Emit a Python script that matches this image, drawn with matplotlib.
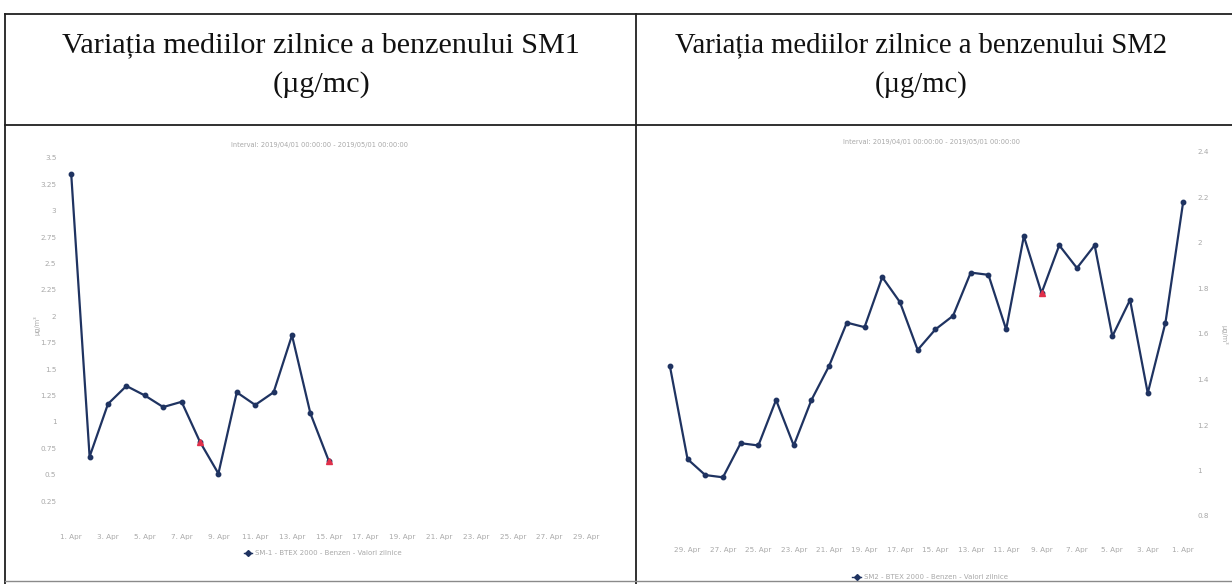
import matplotlib

matplotlib.use("Agg")
import matplotlib.pyplot as plt
import matplotlib.lines as mlines

W, H = 1232, 584

# header texts
titles = ["Variația mediilor zilnice a benzenului SM1", "Variația mediilor zilnice a benzenului SM2"]
unit = "(µg/mc)"
interval = "Interval: 2019/04/01 00:00:00 - 2019/05/01 00:00:00"

# SM1: daily means, 1-15 April
sm1_days = list(range(1, 16))
sm1_vals = [3.35, 0.67, 1.17, 1.34, 1.25, 1.14, 1.19, 0.81, 0.51, 1.28, 1.16, 1.28, 1.82, 1.08, 0.63]
sm1_flag = [8, 15]
sm1_yticks = [0.25, 0.5, 0.75, 1, 1.25, 1.5, 1.75, 2, 2.25, 2.5, 2.75, 3, 3.25, 3.5]
sm1_legend = "SM-1 - BTEX 2000 - Benzen - Valori zilnice"

# SM2: daily means, 1-30 April
sm2_days = list(range(1, 31))
sm2_vals = [2.18, 1.65, 1.34, 1.75, 1.59, 1.99, 1.89, 1.99, 1.78, 2.03,
            1.62, 1.86, 1.87, 1.68, 1.62, 1.53, 1.74, 1.85, 1.63, 1.65,
            1.46, 1.31, 1.11, 1.31, 1.11, 1.12, 0.97, 0.98, 1.05, 1.46]
sm2_flag = [9]
sm2_yticks = [0.8, 1, 1.2, 1.4, 1.6, 1.8, 2, 2.2, 2.4]
sm2_legend = "SM2 - BTEX 2000 - Benzen - Valori zilnice"

xtick_days = list(range(1, 30, 2))
xtick_labels = [f"{d}. Apr" for d in xtick_days]

LINE = "#1f3361"
FLAG = "#e0304a"
FAINT = "#a8a8a8"
SERIF = ["Liberation Serif", "DejaVu Serif"]


def box(x0, y0, x1, y1):
    # pixel box (top-left origin) -> figure fraction rect
    return [x0 / W, 1 - y1 / H, (x1 - x0) / W, (y1 - y0) / H]


def fx(x):
    return x / W


def fy(y):
    return 1 - y / H


def draw_chart(ax, days, vals, flags, yticks, ylim, right=False):
    ax.plot(days, vals, color=LINE, lw=1.6, marker="o", ms=3.2, zorder=3)
    fv = [vals[days.index(d)] for d in flags]
    ax.plot(flags, fv, ls="none", marker="^", ms=5, color=FLAG, zorder=4)
    ax.set_xlim(0.5, 30.5)
    if right:
        ax.invert_xaxis()
        ax.yaxis.tick_right()
    ax.set_ylim(*ylim)
    ax.set_yticks(yticks)
    ax.set_yticklabels([f"{t:g}" for t in yticks])
    ax.set_xticks(xtick_days)
    ax.set_xticklabels(xtick_labels)
    ax.tick_params(axis="both", length=0, labelsize=5.2, colors=FAINT)
    ax.tick_params(axis="x", pad=24 if not right else 22)
    ax.tick_params(axis="y", pad=4)
    for s in ax.spines.values():
        s.set_visible(False)
    ax.set_facecolor("none")


fig = plt.figure(figsize=(W / 100, H / 100), dpi=100)

# table grid
grid = fig.add_axes([0, 0, 1, 1])
grid.set_xlim(0, W)
grid.set_ylim(H, 0)
grid.axis("off")
kw = dict(color="#202020", lw=1.3)
grid.plot([5, W], [14, 14], **kw)
grid.plot([5, W], [125, 125], **kw)
grid.plot([5, 5], [14, H], **kw)
grid.plot([636, 636], [14, H], **kw)
grid.plot([5, W], [581, 581], color="#8a8a8a", lw=1.0)

# header text
for cx, t, fs in [(321, titles[0], 21.7), (921, titles[1], 20.6)]:
    fig.text(fx(cx), fy(45), t, ha="center", va="center", fontsize=fs, family=SERIF, color="#111111")
    fig.text(fx(cx), fy(85), unit, ha="center", va="center", fontsize=fs, family=SERIF, color="#111111")

# SM1 chart
ax1 = fig.add_axes(box(62, 158, 614, 501))
draw_chart(ax1, sm1_days, sm1_vals, sm1_flag, sm1_yticks, (0.25, 3.5))
fig.text(fx(320), fy(145), interval, ha="center", va="center", fontsize=4.8, color=FAINT)
fig.text(fx(37), fy(325), "µg/m³", rotation=90, ha="center", va="center", fontsize=4.8, color=FAINT)

# SM2 chart
ax2 = fig.add_axes(box(661, 152, 1192, 516))
draw_chart(ax2, sm2_days, sm2_vals, sm2_flag, sm2_yticks, (0.8, 2.4), right=True)
fig.text(fx(932), fy(142), interval, ha="center", va="center", fontsize=4.8, color=FAINT)
fig.text(fx(1224), fy(335), "µg/m³", rotation=270, ha="center", va="center", fontsize=4.8, color=FAINT)

# legends
for label, cx, cy in [(sm1_legend, 323, 553), (sm2_legend, 930, 577)]:
    h = mlines.Line2D([], [], color=LINE, marker="D", ms=3, lw=1)
    fig.legend([h], [label], loc="center", bbox_to_anchor=(fx(cx), fy(cy)), frameon=False,
               fontsize=5, labelcolor=FAINT, handlelength=1.2, handletextpad=0.4)

fig.savefig("out.png", dpi=100)
plt.close(fig)
